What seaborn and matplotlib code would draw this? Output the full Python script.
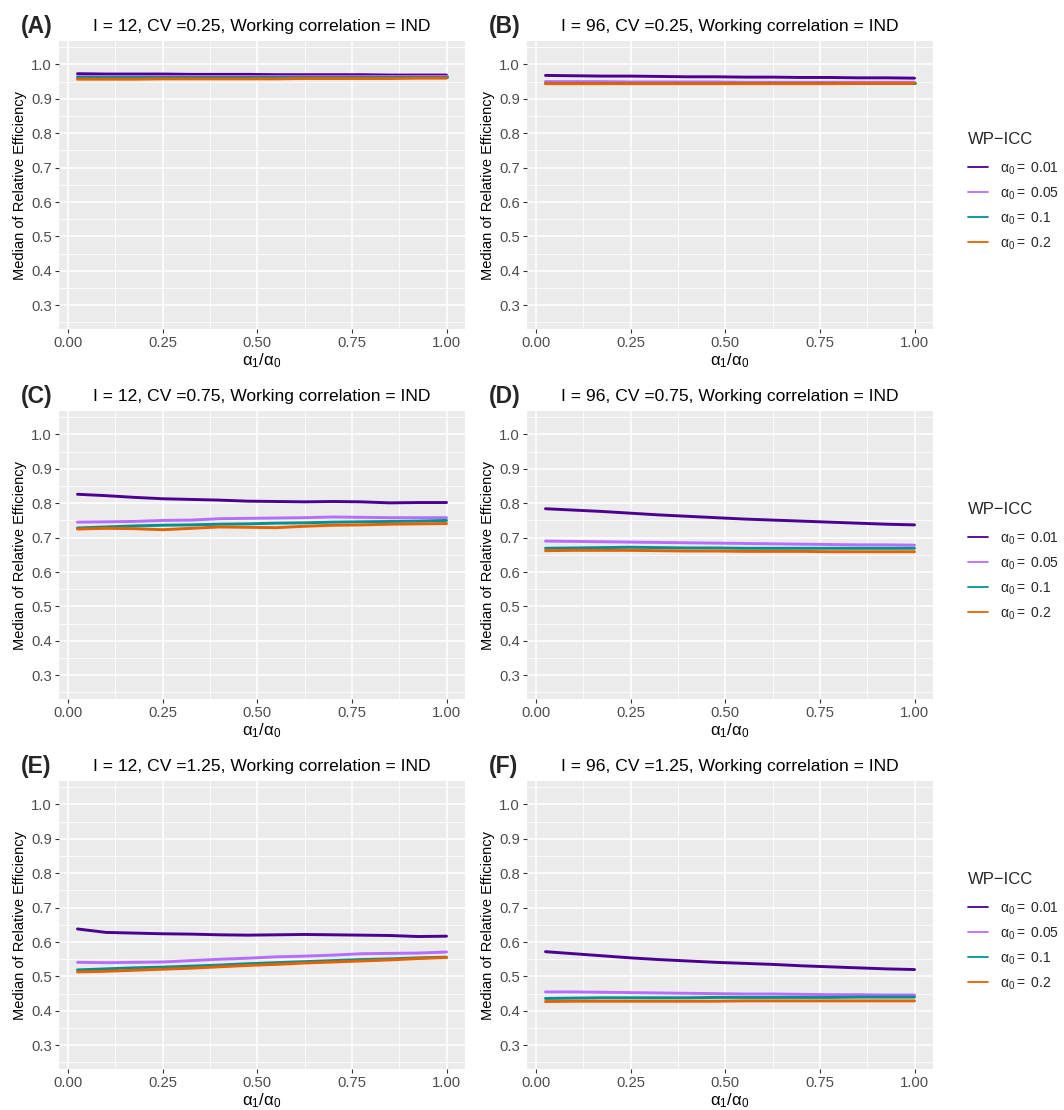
import numpy as np
import pandas as pd
import matplotlib
matplotlib.use("Agg")
import matplotlib.pyplot as plt
from matplotlib.lines import Line2D
from matplotlib.ticker import FixedLocator
import seaborn as sns

# ratio alpha1/alpha0 on the x axis
ratio = [0.025, 0.1, 0.175, 0.25, 0.325, 0.4, 0.475, 0.55, 0.625, 0.7, 0.775, 0.85, 0.925, 1.0]

icc_levels = ["0.01", "0.05", "0.1", "0.2"]

# median relative efficiency, one list per WP-ICC level, for each panel
re_A_001 = [0.973, 0.972, 0.972, 0.972, 0.971, 0.971, 0.971, 0.970, 0.970, 0.970, 0.970, 0.969, 0.969, 0.969]
re_A_005 = [0.965, 0.965, 0.965, 0.965, 0.965, 0.965, 0.965, 0.965, 0.965, 0.965, 0.965, 0.965, 0.965, 0.965]
re_A_010 = [0.962, 0.962, 0.962, 0.962, 0.962, 0.962, 0.962, 0.962, 0.962, 0.962, 0.962, 0.962, 0.962, 0.962]
re_A_020 = [0.957, 0.957, 0.957, 0.958, 0.958, 0.958, 0.958, 0.958, 0.959, 0.959, 0.959, 0.959, 0.960, 0.960]

re_B_001 = [0.968, 0.967, 0.966, 0.966, 0.965, 0.964, 0.964, 0.963, 0.963, 0.962, 0.962, 0.961, 0.961, 0.960]
re_B_005 = [0.950, 0.950, 0.950, 0.949, 0.949, 0.949, 0.949, 0.948, 0.948, 0.948, 0.948, 0.948, 0.948, 0.948]
re_B_010 = [0.947, 0.947, 0.947, 0.947, 0.947, 0.947, 0.947, 0.947, 0.947, 0.947, 0.947, 0.947, 0.947, 0.947]
re_B_020 = [0.944, 0.944, 0.944, 0.944, 0.944, 0.944, 0.944, 0.944, 0.944, 0.944, 0.944, 0.945, 0.945, 0.945]

re_C_001 = [0.826, 0.822, 0.817, 0.813, 0.811, 0.809, 0.806, 0.805, 0.804, 0.805, 0.804, 0.801, 0.802, 0.802]
re_C_005 = [0.745, 0.746, 0.747, 0.750, 0.751, 0.755, 0.756, 0.757, 0.758, 0.760, 0.759, 0.758, 0.758, 0.758]
re_C_010 = [0.728, 0.731, 0.734, 0.736, 0.737, 0.739, 0.740, 0.742, 0.743, 0.745, 0.746, 0.747, 0.748, 0.750]
re_C_020 = [0.725, 0.727, 0.726, 0.723, 0.727, 0.731, 0.730, 0.729, 0.733, 0.736, 0.737, 0.739, 0.740, 0.741]

re_D_001 = [0.784, 0.780, 0.776, 0.771, 0.766, 0.762, 0.758, 0.754, 0.751, 0.748, 0.745, 0.742, 0.739, 0.737]
re_D_005 = [0.690, 0.689, 0.688, 0.687, 0.686, 0.685, 0.684, 0.683, 0.682, 0.681, 0.680, 0.679, 0.679, 0.678]
re_D_010 = [0.669, 0.670, 0.671, 0.672, 0.671, 0.670, 0.670, 0.669, 0.669, 0.669, 0.669, 0.669, 0.669, 0.669]
re_D_020 = [0.662, 0.663, 0.663, 0.663, 0.662, 0.661, 0.661, 0.660, 0.660, 0.660, 0.659, 0.659, 0.659, 0.659]

re_E_001 = [0.638, 0.628, 0.626, 0.624, 0.623, 0.621, 0.620, 0.621, 0.622, 0.621, 0.620, 0.619, 0.616, 0.617]
re_E_005 = [0.541, 0.540, 0.541, 0.542, 0.546, 0.550, 0.553, 0.557, 0.559, 0.562, 0.566, 0.567, 0.568, 0.571]
re_E_010 = [0.519, 0.522, 0.525, 0.527, 0.530, 0.533, 0.537, 0.540, 0.543, 0.546, 0.549, 0.551, 0.554, 0.556]
re_E_020 = [0.513, 0.515, 0.518, 0.521, 0.524, 0.528, 0.532, 0.535, 0.539, 0.542, 0.545, 0.548, 0.552, 0.555]

re_F_001 = [0.572, 0.566, 0.560, 0.554, 0.549, 0.545, 0.541, 0.538, 0.535, 0.531, 0.528, 0.525, 0.522, 0.520]
re_F_005 = [0.455, 0.455, 0.454, 0.453, 0.452, 0.451, 0.450, 0.449, 0.449, 0.448, 0.447, 0.447, 0.446, 0.446]
re_F_010 = [0.436, 0.437, 0.438, 0.438, 0.438, 0.438, 0.439, 0.439, 0.439, 0.439, 0.439, 0.440, 0.440, 0.440]
re_F_020 = [0.427, 0.428, 0.428, 0.428, 0.428, 0.428, 0.428, 0.429, 0.429, 0.429, 0.429, 0.429, 0.429, 0.429]

panel_tags = ["(A)", "(B)", "(C)", "(D)", "(E)", "(F)"]
panel_titles = [
    "I = 12, CV =0.25, Working correlation = IND",
    "I = 96, CV =0.25, Working correlation = IND",
    "I = 12, CV =0.75, Working correlation = IND",
    "I = 96, CV =0.75, Working correlation = IND",
    "I = 12, CV =1.25, Working correlation = IND",
    "I = 96, CV =1.25, Working correlation = IND",
]
panel_series = [
    [re_A_001, re_A_005, re_A_010, re_A_020],
    [re_B_001, re_B_005, re_B_010, re_B_020],
    [re_C_001, re_C_005, re_C_010, re_C_020],
    [re_D_001, re_D_005, re_D_010, re_D_020],
    [re_E_001, re_E_005, re_E_010, re_E_020],
    [re_F_001, re_F_005, re_F_010, re_F_020],
]

palette = {"0.01": "#4B0092", "0.05": "#B66DFF", "0.1": "#009292", "0.2": "#E66100"}

sns.set_theme(style="darkgrid", rc={
    "axes.facecolor": "#EBEBEB",
    "grid.color": "white",
    "axes.edgecolor": "white",
})
plt.rcParams["font.family"] = ["Liberation Sans", "DejaVu Sans"]
plt.rcParams["mathtext.fontset"] = "custom"
plt.rcParams["mathtext.rm"] = "Liberation Sans"
plt.rcParams["mathtext.it"] = "Liberation Sans:italic"

W, H = 1064, 1110
fig = plt.figure(figsize=(W / 100, H / 100), dpi=100)

col_left = [59, 527]
row_top = [41, 411, 781]
ax_w, ax_h = 406, 288

axes = []
for r in range(3):
    for c in range(2):
        ax = fig.add_axes([col_left[c] / W, 1 - (row_top[r] + ax_h) / H, ax_w / W, ax_h / H])
        axes.append(ax)

for i, ax in enumerate(axes):
    frames = []
    for lvl, vals in zip(icc_levels, panel_series[i]):
        frames.append(pd.DataFrame({"ratio": ratio, "re": vals, "icc": lvl}))
    df = pd.concat(frames, ignore_index=True)
    sns.lineplot(data=df, x="ratio", y="re", hue="icc", hue_order=icc_levels,
                 palette=palette, linewidth=2.1, ax=ax, legend=False)

    ax.set_xlim(-0.0238, 1.0488)
    ax.set_ylim(0.231, 1.068)
    ax.xaxis.set_major_locator(FixedLocator([0, 0.25, 0.5, 0.75, 1.0]))
    ax.set_xticklabels(["0.00", "0.25", "0.50", "0.75", "1.00"])
    ax.yaxis.set_major_locator(FixedLocator([0.3, 0.4, 0.5, 0.6, 0.7, 0.8, 0.9, 1.0]))
    ax.set_yticklabels(["0.3", "0.4", "0.5", "0.6", "0.7", "0.8", "0.9", "1.0"])
    ax.xaxis.set_minor_locator(FixedLocator([0.125, 0.375, 0.625, 0.875]))
    ax.yaxis.set_minor_locator(FixedLocator([0.25, 0.35, 0.45, 0.55, 0.65, 0.75, 0.85, 0.95, 1.05]))
    ax.grid(which="major", color="white", linewidth=1.1)
    ax.grid(which="minor", color="white", linewidth=0.55)
    ax.set_axisbelow(True)
    for s in ax.spines.values():
        s.set_visible(False)
    ax.tick_params(axis="both", which="major", length=3, width=0.8, color="#333333",
                   labelsize=10.7, labelcolor="#4D4D4D", pad=2, left=True, bottom=True)
    ax.tick_params(axis="both", which="minor", length=0)

    ax.set_xlabel(r"$\mathrm{\alpha_1/\alpha_0}$", fontsize=12, labelpad=1, color="black")
    ax.set_ylabel("Median of Relative Efficiency", fontsize=10.5, labelpad=3, color="black")
    ax.set_title(panel_titles[i], fontsize=12.6, pad=7, color="black")
    ax.text(-0.094, 1.052, panel_tags[i], transform=ax.transAxes, fontsize=16.5,
            fontweight="bold", ha="left", va="center")

    if i % 2 == 1:
        top = row_top[i // 2]
        fig.text(968 / W, 1 - (top + 99) / H, "WP\u2212ICC", fontsize=12,
                 ha="left", va="center")
        handles = [Line2D([0], [0], color=palette[l], linewidth=1.3) for l in icc_levels]
        labels = [r"$\mathrm{\alpha_0 =}$ " + l for l in icc_levels]
        fig.legend(handles, labels, loc="center left",
                   bbox_to_anchor=(968 / W, 1 - (top + 165) / H),
                   frameon=False, fontsize=10, handlelength=1.45, handletextpad=0.85,
                   labelspacing=0.62, borderpad=0, borderaxespad=0)

fig.savefig("out.png", dpi=100, facecolor="white")
